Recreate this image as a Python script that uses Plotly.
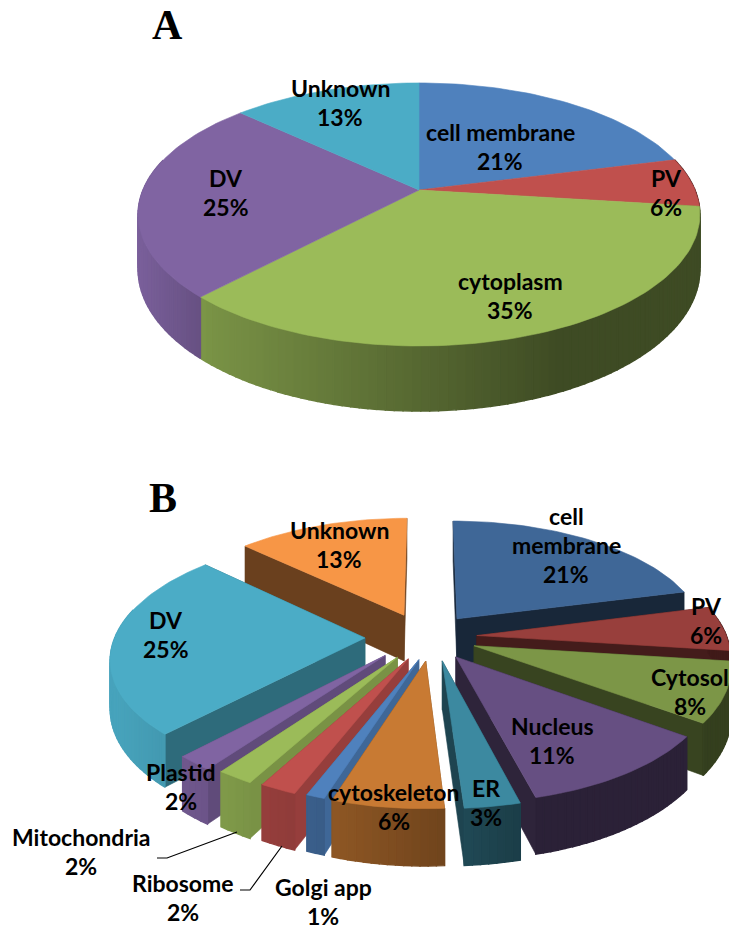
import math
import numpy as np
import plotly.graph_objects as go

# Subcellular localisation shares, in percent, clockwise from twelve o'clock
a_names = ["cell membrane", "PV", "cytoplasm", "DV", "Unknown"]
a_values = [21, 6, 35, 25, 13]
b_names = ["cell membrane", "PV", "Cytosol", "Nucleus", "ER", "cytoskeleton",
           "Golgi app", "Ribosome", "Mitochondria", "Plastid", "DV", "Unknown"]
b_values = [21, 6, 8, 11, 3, 6, 1, 2, 2, 2, 25, 13]

# Styling for the two pies
a_colors = ["#4f81bd", "#c0504d", "#9bbb59", "#8064a2", "#4bacc6"]
b_colors = ["#3f6797", "#983f3c", "#7c9647", "#664f82", "#3c89a0", "#c87a33",
            "#4f81bd", "#c0504d", "#9bbb59", "#8064a2", "#4bacc6", "#f79646"]
b_explode = [50, 50, 50, 50, 50, 50, 50, 50, 50, 50, 62, 52]
b_shift = [0, 0, 0, 0, 7, 5, 9, 3, -2, -9, 0, -3]
b_cut_shade = [.38, .45, .45, .45, .5, .6, .8, .78, .78, .75, .62, .43]
b_draw_order = [11, 0, 1, 2, 3, 4, 10, 9, 8, 7, 6, 5]

A_VIEW = dict(cx=419, cy=190, r=276, tilt=.46, persp=.186, h=53)
B_VIEW = dict(cx=427, cy=637, r=250, tilt=.47, persp=.15, h=47)
A_SHADE = ([140, 210, 560], [.95, .78, .40])
B_SHADE = ([115, 240, 340, 450, 540], [.95, .80, .70, .55, .42])

# Text anchors: (x, y) of the block centre for every label
a_label_xy = [(500, 146), (666, 192), (510, 295), (226, 192), (340, 102)]
b_label_xy = [(566, 545), (706, 620), (690, 691), (552, 740), (486, 802),
              (394, 806), (323, 901), (183, 897), (81, 851), (181, 786),
              (166, 634), (339, 544)]
b_label_text = ["cell<br>membrane", "PV", "Cytosol", "Nucleus", "ER", "cytoskeleton",
                "Golgi app", "Ribosome", "Mitochondria", "Plastid", "DV", "Unknown"]
LINE_GAP = 29
leader_x = [[157, 167, 237], [240, 250, 282]]
leader_y = [[858, 858, 832], [890, 890, 846]]


def scale(hex_color, f):
    rgb = [int(hex_color[i:i + 2], 16) for i in (1, 3, 5)]
    return "rgb({},{},{})".format(*[min(255, round(c * f)) for c in rgb])


def project(view, x3, y3, z=0.0):
    """Perspective projection of a point on the pie plane; z is the drop below it."""
    s = 1 / (1 + view["persp"] * y3 / view["r"])
    return view["cx"] + x3 * s, view["cy"] - view["tilt"] * y3 * s + z * s


def rim(view, deg, off):
    t = math.radians(deg)
    return off[0] + view["r"] * math.sin(t), off[1] + view["r"] * math.cos(t)


fig = go.Figure()


def poly(xs, ys, color, width=0.6):
    fig.add_trace(go.Scatter(x=list(xs) + [xs[0]], y=list(ys) + [ys[0]], mode="lines",
                             fill="toself", fillcolor=color,
                             line=dict(color=color, width=width),
                             hoverinfo="skip", showlegend=False))


def cut_face(view, p, q, color):
    a0, b0 = project(view, *p), project(view, *q)
    a1, b1 = project(view, *p, view["h"]), project(view, *q, view["h"])
    poly([a0[0], b0[0], b1[0], a1[0]], [a0[1], b0[1], b1[1], a1[1]], color)


def walls(view, start, end, off, color, shade):
    steps = max(2, int((end - start) / 1.5))
    edges = np.linspace(start, end, steps + 1)
    for d0, d1 in zip(edges[:-1], edges[1:]):
        if math.cos(math.radians((d0 + d1) / 2)) > .25:
            continue
        p, q = rim(view, d0, off), rim(view, d1, off)
        a0, b0 = project(view, *p), project(view, *q)
        a1, b1 = project(view, *p, view["h"]), project(view, *q, view["h"])
        f = float(np.interp((a0[0] + b0[0]) / 2, *shade))
        poly([a0[0], b0[0], b1[0], a1[0]], [a0[1], b0[1], b1[1], a1[1]], scale(color, f), 1.4)


def top(view, start, end, off, color):
    degs = np.linspace(start, end, max(3, int((end - start) / 1.5) + 1))
    pts = [project(view, *off)] + [project(view, *rim(view, d, off)) for d in degs]
    poly([p[0] for p in pts], [p[1] for p in pts], color)


def spans(values):
    edges = np.cumsum([0] + list(values)) * 3.6
    return list(zip(edges[:-1], edges[1:]))


# Pie A: one solid disc, so the rim goes down first and the faces on top
a_spans = spans(a_values)
for (s, e), c in zip(a_spans, a_colors):
    walls(A_VIEW, s, e, (0, 0), c, A_SHADE)
for (s, e), c in zip(a_spans, a_colors):
    top(A_VIEW, s, e, (0, 0), c)

# Pie B: exploded wedges painted back to front
b_spans = spans(b_values)
for i in b_draw_order:
    s, e = b_spans[i]
    mid = math.radians((s + e) / 2)
    off = (b_explode[i] * math.sin(mid) + b_shift[i], b_explode[i] * math.cos(mid))
    c = b_colors[i]
    cuts = sorted([s, e], key=lambda d: -math.cos(math.radians(d)))
    for d in cuts:
        cut_face(B_VIEW, off, rim(B_VIEW, d, off), scale(c, b_cut_shade[i]))
    walls(B_VIEW, s, e, off, c, B_SHADE)
    top(B_VIEW, s, e, off, c)

for lx, ly in zip(leader_x, leader_y):
    fig.add_trace(go.Scatter(x=lx, y=ly, mode="lines", line=dict(color="black", width=1.2),
                             hoverinfo="skip", showlegend=False))


def add_label(xy, text, value):
    lines = text.split("<br>") + [f"{value}%"]
    y0 = xy[1] - LINE_GAP * (len(lines) - 1) / 2
    for k, line in enumerate(lines):
        fig.add_annotation(x=xy[0], y=y0 + k * LINE_GAP, text=line, showarrow=False,
                           xanchor="center", yanchor="middle",
                           font=dict(family="Lato", size=23, color="black", weight="bold"))


for xy, name, v in zip(a_label_xy, a_names, a_values):
    add_label(xy, name, v)
for xy, name, v in zip(b_label_xy, b_label_text, b_values):
    add_label(xy, name, v)

for letter, x, y in (("A", 167, 25), ("B", 163, 498)):
    fig.add_annotation(x=x, y=y, text=letter, showarrow=False, xanchor="center", yanchor="middle",
                       font=dict(family="Liberation Serif", size=42, color="black", weight="bold"))

fig.update_layout(width=729, height=930, margin=dict(l=0, r=0, t=0, b=0),
                  paper_bgcolor="white", plot_bgcolor="white", showlegend=False)
fig.update_xaxes(range=[0, 729], visible=False, fixedrange=True)
fig.update_yaxes(range=[930, 0], visible=False, fixedrange=True)
fig.write_html("out.html", config=dict(displayModeBar=False))
